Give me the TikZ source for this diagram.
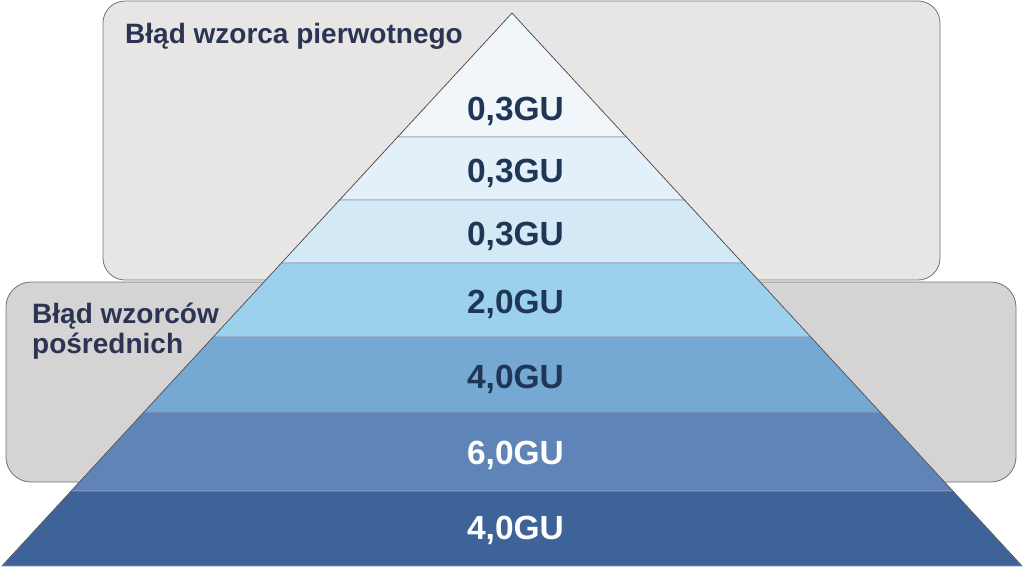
\documentclass[tikz,border=0pt]{standalone}
\usepackage{fontspec}
\setmainfont{Liberation Sans}
\begin{document}
\begin{tikzpicture}[x=1pt,y=-1pt,
  panel/.style={draw=black!55, line width=0.8pt},
  layer/.style={draw=black!70!blue!40, line width=0.6pt},
  val/.style={font=\bfseries\fontsize{33.5}{33.5}\selectfont, text=navy, anchor=base, inner sep=0pt},
  vallight/.style={val, text=white},
  title/.style={font=\bfseries\fontsize{28}{30}\selectfont, text=titlec, align=left, anchor=base west, inner sep=0pt}
]
\definecolor{navy}{HTML}{1F3655}
\definecolor{titlec}{HTML}{2B3553}
\definecolor{boxA}{HTML}{E8E6E4}
\definecolor{boxB}{HTML}{D5D3D4}
\definecolor{L1}{HTML}{F1F6FB}
\definecolor{L2}{HTML}{E3F0F9}
\definecolor{L3}{HTML}{D4E9F6}
\definecolor{L4}{HTML}{9CD1EE}
\definecolor{L5}{HTML}{75A8D3}
\definecolor{L6}{HTML}{5F85B8}
\definecolor{L7}{HTML}{3D6398}
\useasboundingbox (0,0) rectangle (1023,566);
% panels
\draw[panel, fill=boxA, rounded corners=22pt] (103,1) rectangle (940,280);
\draw[panel, fill=boxB, rounded corners=25pt] (6,282) rectangle (1016,482);
\node[title] (t1) at (125,43) {Błąd wzorca pierwotnego};
\node[title] (t2) at (32,353) {Błąd wzorców\\pośrednich};
% pyramid layers: apex (512,13), base y=566
\def\hw#1{0.9222*(#1-13)}
\foreach \ya/\yb/\c in {13/137/L1,137/200/L2,200/263/L3,263/337/L4,337/412/L5,412/491/L6,491/566/L7}{
  \draw[layer, fill=\c] ({512-\hw{\ya}},\ya) -- ({512+\hw{\ya}},\ya) -- ({512+\hw{\yb}},\yb) -- ({512-\hw{\yb}},\yb) -- cycle;
}
\draw[draw=black!70, line width=0.6pt] (512,13) -- ({512-\hw{566}},566);
\draw[draw=black!70, line width=0.6pt] (512,13) -- ({512+\hw{566}},566);
\node[val] (v1) at (515.5,120) {0,3GU};
\node[val] (v2) at (515.5,182) {0,3GU};
\node[val] (v3) at (515.5,245) {0,3GU};
\node[val] (v4) at (515.5,313) {2,0GU};
\node[val] (v5) at (515.5,388) {4,0GU};
\node[vallight] (v6) at (515.5,464) {6,0GU};
\node[vallight] (v7) at (515.5,539) {4,0GU};
\end{tikzpicture}
\end{document}
